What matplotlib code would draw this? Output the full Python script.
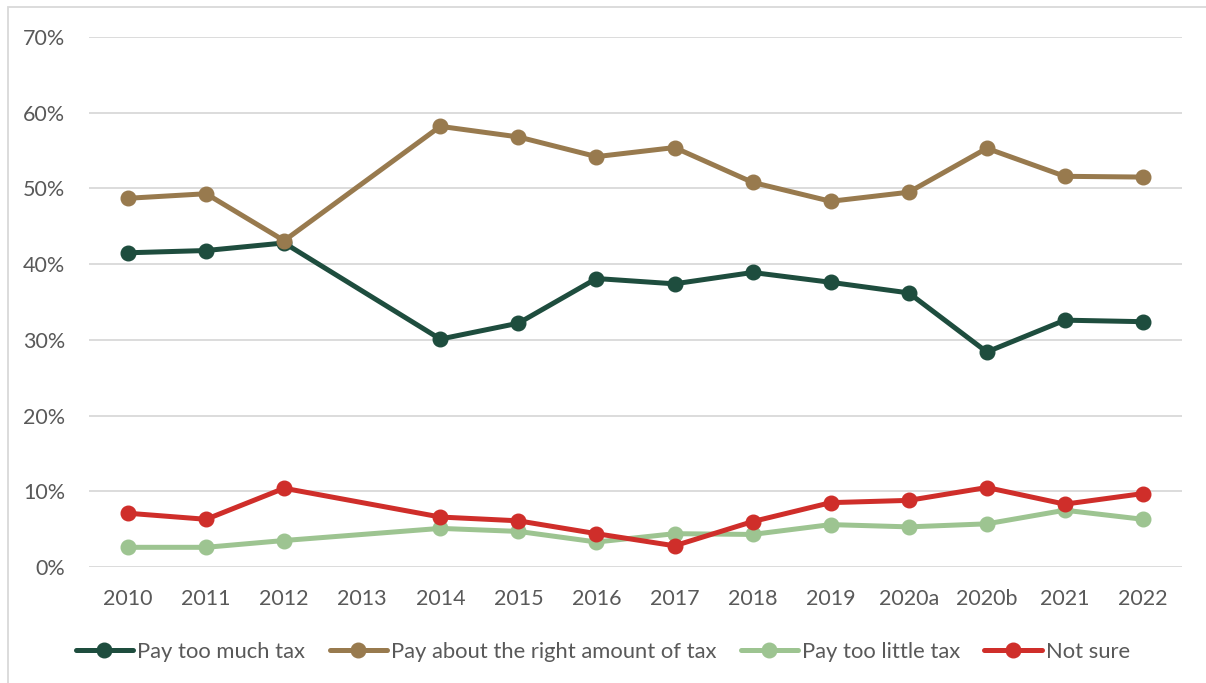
import numpy as np
import matplotlib
matplotlib.use("Agg")
import matplotlib.pyplot as plt
from matplotlib.patches import Rectangle
from matplotlib.ticker import FuncFormatter

plt.rcParams['font.family'] = ['Lato', 'DejaVu Sans']

years = ["2010", "2011", "2012", "2013", "2014", "2015", "2016", "2017",
         "2018", "2019", "2020a", "2020b", "2021", "2022"]
nan = np.nan
too_much = [41.5, 41.8, 42.8, nan, 30.1, 32.2, 38.1, 37.4, 38.9, 37.6, 36.2, 28.4, 32.6, 32.4]
right_amount = [48.7, 49.3, 43.1, nan, 58.2, 56.8, 54.2, 55.4, 50.8, 48.3, 49.5, 55.3, 51.6, 51.5]
too_little = [2.6, 2.6, 3.5, nan, 5.1, 4.7, 3.3, 4.4, 4.3, 5.6, 5.3, 5.7, 7.5, 6.3]
not_sure = [7.1, 6.3, 10.4, nan, 6.6, 6.1, 4.4, 2.8, 6.0, 8.5, 8.8, 10.5, 8.3, 9.7]

series = [
    ("Pay too much tax", too_much, "#1E4D3E"),
    ("Pay about the right amount of tax", right_amount, "#987A4E"),
    ("Pay too little tax", too_little, "#9DC491"),
    ("Not sure", not_sure, "#CF2E2A"),
]

W, H = 1206, 683
fig = plt.figure(figsize=(W / 100, H / 100), dpi=100)
ax = fig.add_axes([89 / W, 1 - 567 / H, (1182 - 89) / W, (567 - 37) / H])

x = np.arange(len(years))
for label, vals, color in series:
    v = np.array(vals, dtype=float)
    m = ~np.isnan(v)
    ax.plot(x[m], v[m], color=color, lw=3.6, marker="o", ms=10.5,
            solid_capstyle="round", label=label, zorder=3)

ax.set_xlim(-0.5, len(years) - 0.5)
ax.set_ylim(0, 70)
ax.set_yticks(np.arange(0, 71, 10))
ax.yaxis.set_major_formatter(FuncFormatter(lambda v, p: f"{v:.0f}%"))
ax.set_xticks(x)
ax.set_xticklabels(years)
ax.grid(axis="y", color="#D9D9D9", lw=1.3, zorder=0)
ax.set_axisbelow(True)
for s in ax.spines.values():
    s.set_visible(False)
ax.tick_params(length=0, labelsize=15.5, labelcolor="#595959")
ax.tick_params(axis="x", pad=16)
ax.tick_params(axis="y", pad=17)

leg = fig.legend(loc="center", bbox_to_anchor=(0.5, 1 - 652 / H), ncol=4,
                 frameon=False, fontsize=15.8, handlelength=2.6, handletextpad=0.2,
                 columnspacing=1.1, labelcolor="#595959")

fig.patches.append(Rectangle((8 / W, -0.1), 1.2, 1 - 7 / H + 0.1,
                             transform=fig.transFigure, fill=False,
                             edgecolor="#D9D9D9", lw=1.3))

fig.savefig("out.png", dpi=100, facecolor="white")
